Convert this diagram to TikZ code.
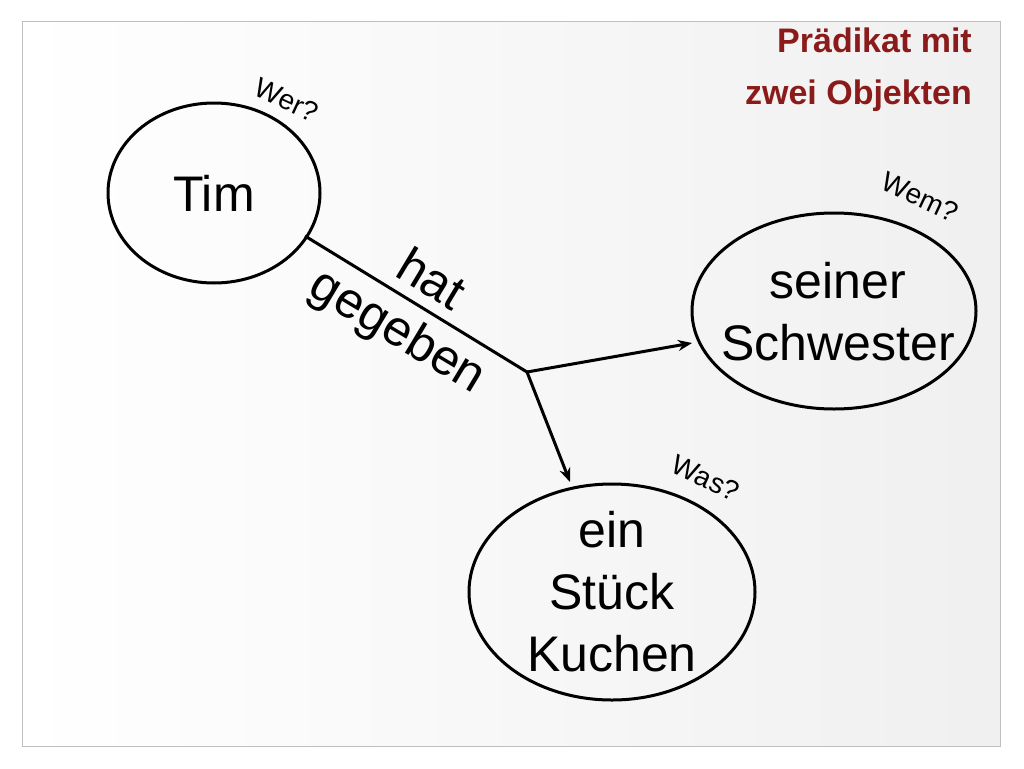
\documentclass[tikz,border=0pt]{standalone}
\usepackage{fontspec}
\setmainfont{Liberation Sans}
\usetikzlibrary{arrows.meta}
\definecolor{dred}{HTML}{8B1A1A}
\begin{document}
\begin{tikzpicture}[x=1pt,y=-1pt,
  q/.style={font=\fontsize{28}{30}\selectfont,rotate=-25,inner sep=0pt},
  big/.style={font=\fontsize{50}{62}\selectfont,align=center},
  arr/.style={line width=3pt,-{Stealth[length=14pt,width=11pt]}}]
\useasboundingbox (0,0) rectangle (1024,768);
\fill[white] (0,0) rectangle (1024,768);
\shade[left color=white,right color=black!6] (22,22) rectangle (1000,746);
\draw[black!25,line width=1pt] (22,22) rectangle (1000,746);
\draw[line width=3pt] (214,193) ellipse [x radius=106,y radius=90];
\draw[line width=3pt] (834,311) ellipse [x radius=142,y radius=98];
\draw[line width=3pt] (612,592) ellipse [x radius=143,y radius=108];
\node[big] (tim) at (214,193) {Tim};
\node[big] (sch) at (838,312) {seiner\\Schwester};
\node[big] (kuc) at (612,592) {ein\\Stück\\Kuchen};
\coordinate (a) at (305,236);
\coordinate (j) at (527,372);
\coordinate (b) at (692,343);
\coordinate (c) at (570,482);
\draw[line width=3pt] (a) -- (j);
\draw[arr] (j) -- (b);
\draw[arr] (j) -- (c);
\node[font=\fontsize{50}{50}\selectfont,rotate=-31,inner sep=0pt] (hat) at (432,278) {hat};
\node[font=\fontsize{50}{50}\selectfont,rotate=-31,inner sep=0pt] (geg) at (397,333) {gegeben};
\node[q] (wer) at (287,100) {Wer?};
\node[q] (wem) at (920,197) {Wem?};
\node[q] (was) at (706,478) {Was?};
\node[font=\bfseries\fontsize{34}{52}\selectfont,text=dred,align=right,anchor=north east,inner sep=0pt] (title) at (972,28) {Prädikat mit\\zwei Objekten};
\end{tikzpicture}
\end{document}
